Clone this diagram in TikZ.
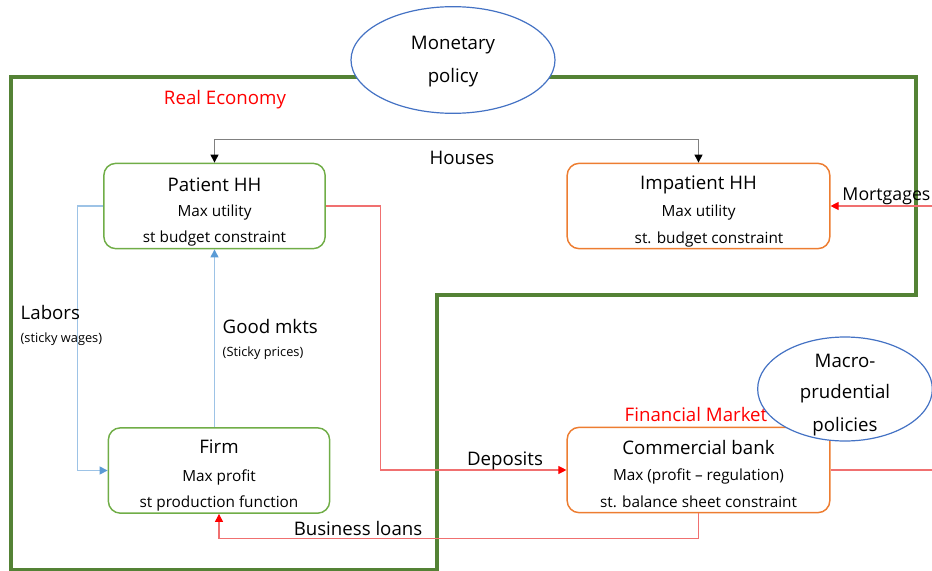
\documentclass[tikz,border=0pt]{standalone}
\usepackage{fontspec}
\setmainfont{Open Sans}
\usetikzlibrary{arrows.meta, positioning, shapes.geometric}
\definecolor{framegreen}{HTML}{548235}
\definecolor{boxgreen}{HTML}{70AD47}
\definecolor{boxorange}{HTML}{ED7D31}
\definecolor{ellblue}{HTML}{4472C4}
\definecolor{linkblue}{HTML}{9DC3E6}
\definecolor{tipblue}{HTML}{5B9BD5}
\definecolor{linkred}{HTML}{F07070}
\tikzset{>=Triangle,
  agent/.style={draw, rounded corners=9pt, line width=1.1pt, minimum width=#1, minimum height=64pt},
  title/.style={font=\fontsize{14}{16}\selectfont},
  sub/.style={font=\fontsize{11.5}{13}\selectfont},
  small/.style={font=\fontsize{9.6}{11}\selectfont, anchor=west},
  policy/.style={ellipse, draw=ellblue, fill=white, line width=0.9pt},
  bluelink/.style={draw=linkblue, line width=0.8pt, -{Triangle[color=tipblue, length=6pt, width=6pt]}},
  redlink/.style={draw=linkred, line width=0.8pt, -{Triangle[color=red, length=6pt, width=6pt]}}
}
\begin{document}
\begin{tikzpicture}[x=0.75pt, y=-0.75pt]
    \useasboundingbox (0,0) rectangle (932,571);

    % real economy frame
    \draw[framegreen, line width=2.3pt] (11,77) -- (916,77) -- (916,295) -- (437,295) -- (437,570) -- (11,570) -- cycle;
    \node[text=red, title] (realeco) at (225,100) {Real Economy};

    % agents
    \node[agent=166pt, draw=boxgreen] (patient) at (214.5,206) {};
    \node[title] (patientT) at (214.5,185) {Patient HH};
    \node[sub] (patientA) at (214.5,213) {Max utility};
    \node[sub] (patientB) at (214.5,239) {st budget constraint};

    \node[agent=197pt, draw=boxorange] (impatient) at (698.5,206) {};
    \node[title] (impatientT) at (698.5,185) {Impatient HH};
    \node[sub] (impatientA) at (698.5,213) {Max utility};
    \node[sub] (impatientB) at (709,240) {st. budget constraint};

    \node[agent=166pt, draw=boxgreen] (firm) at (219,470.5) {};
    \node[title] (firmT) at (219,447) {Firm};
    \node[sub] (firmA) at (219,477) {Max profit};
    \node[sub] (firmB) at (219,503) {st production function};

    \node[agent=197pt, draw=boxorange] (bank) at (698.5,470) {};
    \node[title] (bankT) at (698.5,447) {Commercial bank};
    \node[sub] (bankA) at (698.5,476) {Max (profit -- regulation)};
    \node[sub] (bankB) at (698.5,502) {st. balance sheet constraint};
    \node[text=red, title] (finmkt) at (696,414) {Financial Market};

    % links
    \draw[bluelink] (patient.west) -- ++(-26,0) |- (firm.west);
    \node[title, anchor=west] (labors) at (16,312) {Labors};
    \node[small] (laborsB) at (16,339) {(sticky wages)};

    \draw[bluelink] (firm.north -| patient.south) -- (patient.south);
    \node[title, anchor=west] (goods) at (218,326) {Good mkts};
    \node[small] (goodsB) at (218,353) {(Sticky prices)};

    \draw[redlink] (patient.east) -- ++(55,0) |- (bank.west);
    \node[title] (deposits) at (505,461) {Deposits};

    \draw[redlink] (bank.south) -- ++(0,25) -| (firm.south);
    \node[title] (loans) at (358,528) {Business loans};

    \draw[gray, line width=0.8pt, {Triangle[color=black, length=6pt, width=6pt]}-{Triangle[color=black, length=6pt, width=6pt]}]
        (patient.north) -- ++(0,-23) -| (impatient.north);
    \node[title] (houses) at (462,158) {Houses};

    \coordinate (mortin) at (932,206);
    \draw[redlink] (mortin) -- (impatient.east);
    \node[font=\fontsize{13.3}{15}\selectfont, anchor=east, inner xsep=1pt] (mortgages) at (932,196) {Mortgages};

    \coordinate (bankout) at (932,470);
    \draw[draw=linkred, line width=0.8pt] (bank.east) -- (bankout);

    % policies
    \node[policy, minimum width=153pt, minimum height=80pt] (monetary) at (453,60) {};
    \node[title] (monetaryA) at (453,45) {Monetary};
    \node[title] (monetaryB) at (453,78) {policy};

    \node[policy, minimum width=131pt, minimum height=78pt] (macro) at (845,389) {};
    \node[title] (macroA) at (845,361) {Macro-};
    \node[title] (macroB) at (845,394) {prudential};
    \node[title] (macroC) at (845,427) {policies};
\end{tikzpicture}
\end{document}
